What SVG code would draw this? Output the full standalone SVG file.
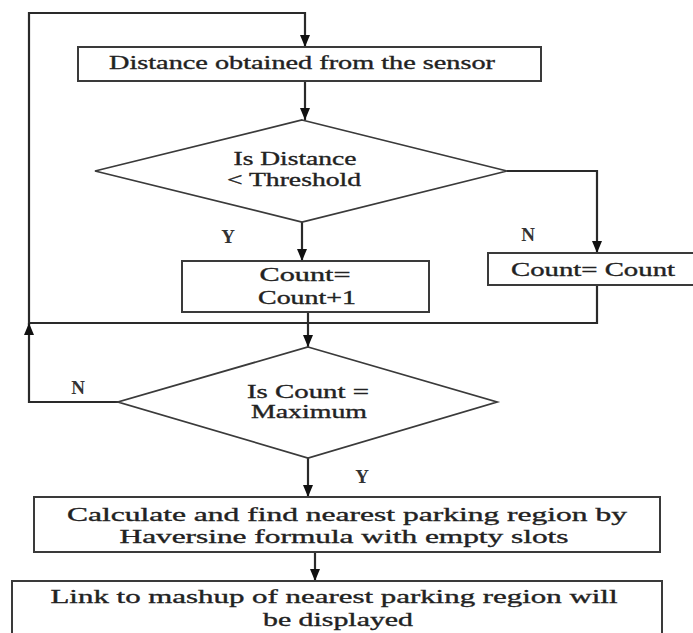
<svg xmlns="http://www.w3.org/2000/svg" width="693" height="633" viewBox="0 0 693 633">
<style>
.box{fill:#fff;stroke:#3a3a3a;stroke-width:2}
.dia{fill:#fff;stroke:#3a3a3a;stroke-width:1.8}
.ln{fill:none;stroke:#2a2a2a;stroke-width:2.2}
.t{font-family:"Liberation Serif","Times New Roman",serif;font-size:19px;fill:#222;stroke:#222;stroke-width:0.35;text-anchor:middle}
.lb{font-family:"Liberation Serif","Times New Roman",serif;font-size:19px;font-weight:bold;fill:#333;text-anchor:middle}
</style>
<defs>
<marker id="ah" viewBox="0 0 12 10" refX="12" refY="5" markerWidth="12" markerHeight="10" markerUnits="userSpaceOnUse" orient="auto">
<path d="M0,0 L12,5 L0,10 Z" fill="#111"/>
</marker>
</defs>
<rect width="693" height="633" fill="#fff"/>
<g id="connectors">
<path class="ln" d="M29,325 V13 H305 V47" marker-end="url(#ah)"/>
<path class="ln" d="M305,81 V120" marker-end="url(#ah)"/>
<path class="ln" d="M507,171 H597 V253" marker-end="url(#ah)"/>
<path class="ln" d="M302,222 V261" marker-end="url(#ah)"/>
<path class="ln" d="M597,285 V323 H29"/>
<path class="ln" d="M308,312 V347" marker-end="url(#ah)"/>
<path class="ln" d="M118,402 H29 V323" marker-end="url(#ah)"/>
<path class="ln" d="M308,458 V497" marker-end="url(#ah)"/>
<path class="ln" d="M315,552 V581" marker-end="url(#ah)"/>
</g>
<g id="n1">
<rect class="box" x="78" y="47" width="463" height="34"/>
<text class="t" x="302" y="69" textLength="386" lengthAdjust="spacingAndGlyphs">Distance obtained from the sensor</text>
</g>
<g id="d1">
<polygon class="dia" points="302,120 507,171 302,222 95,171"/>
<text class="t" x="295" y="165" textLength="123" lengthAdjust="spacingAndGlyphs">Is Distance</text>
<text class="t" x="294" y="186" textLength="134" lengthAdjust="spacingAndGlyphs">&lt; Threshold</text>
</g>
<g id="labels">
<text class="lb" x="228" y="243">Y</text>
<text class="lb" x="528" y="241">N</text>
<text class="lb" x="78" y="394">N</text>
<text class="lb" x="362" y="483">Y</text>
</g>
<g id="n2">
<rect class="box" x="182" y="261" width="247" height="51"/>
<text class="t" x="305" y="281" textLength="91" lengthAdjust="spacingAndGlyphs">Count=</text>
<text class="t" x="307" y="304" textLength="98" lengthAdjust="spacingAndGlyphs">Count+1</text>
</g>
<g id="n3">
<rect class="box" x="488" y="253" width="212" height="32"/>
<text class="t" x="593" y="276" textLength="164" lengthAdjust="spacingAndGlyphs">Count= Count</text>
</g>
<g id="d2">
<polygon class="dia" points="308,347 497,402 308,458 118,402"/>
<text class="t" x="308" y="398" textLength="122" lengthAdjust="spacingAndGlyphs">Is Count =</text>
<text class="t" x="309" y="418" textLength="116" lengthAdjust="spacingAndGlyphs">Maximum</text>
</g>
<g id="n4">
<rect class="box" x="34" y="497" width="626" height="55"/>
<text class="t" x="347" y="521" textLength="560" lengthAdjust="spacingAndGlyphs">Calculate and find nearest parking region by</text>
<text class="t" x="344" y="543" textLength="449" lengthAdjust="spacingAndGlyphs">Haversine formula with empty slots</text>
</g>
<g id="n5">
<rect class="box" x="12" y="581" width="650" height="60"/>
<text class="t" x="334" y="603" textLength="567" lengthAdjust="spacingAndGlyphs">Link to mashup of nearest parking region will</text>
<text class="t" x="338" y="626" textLength="150" lengthAdjust="spacingAndGlyphs">be displayed</text>
</g>
</svg>
